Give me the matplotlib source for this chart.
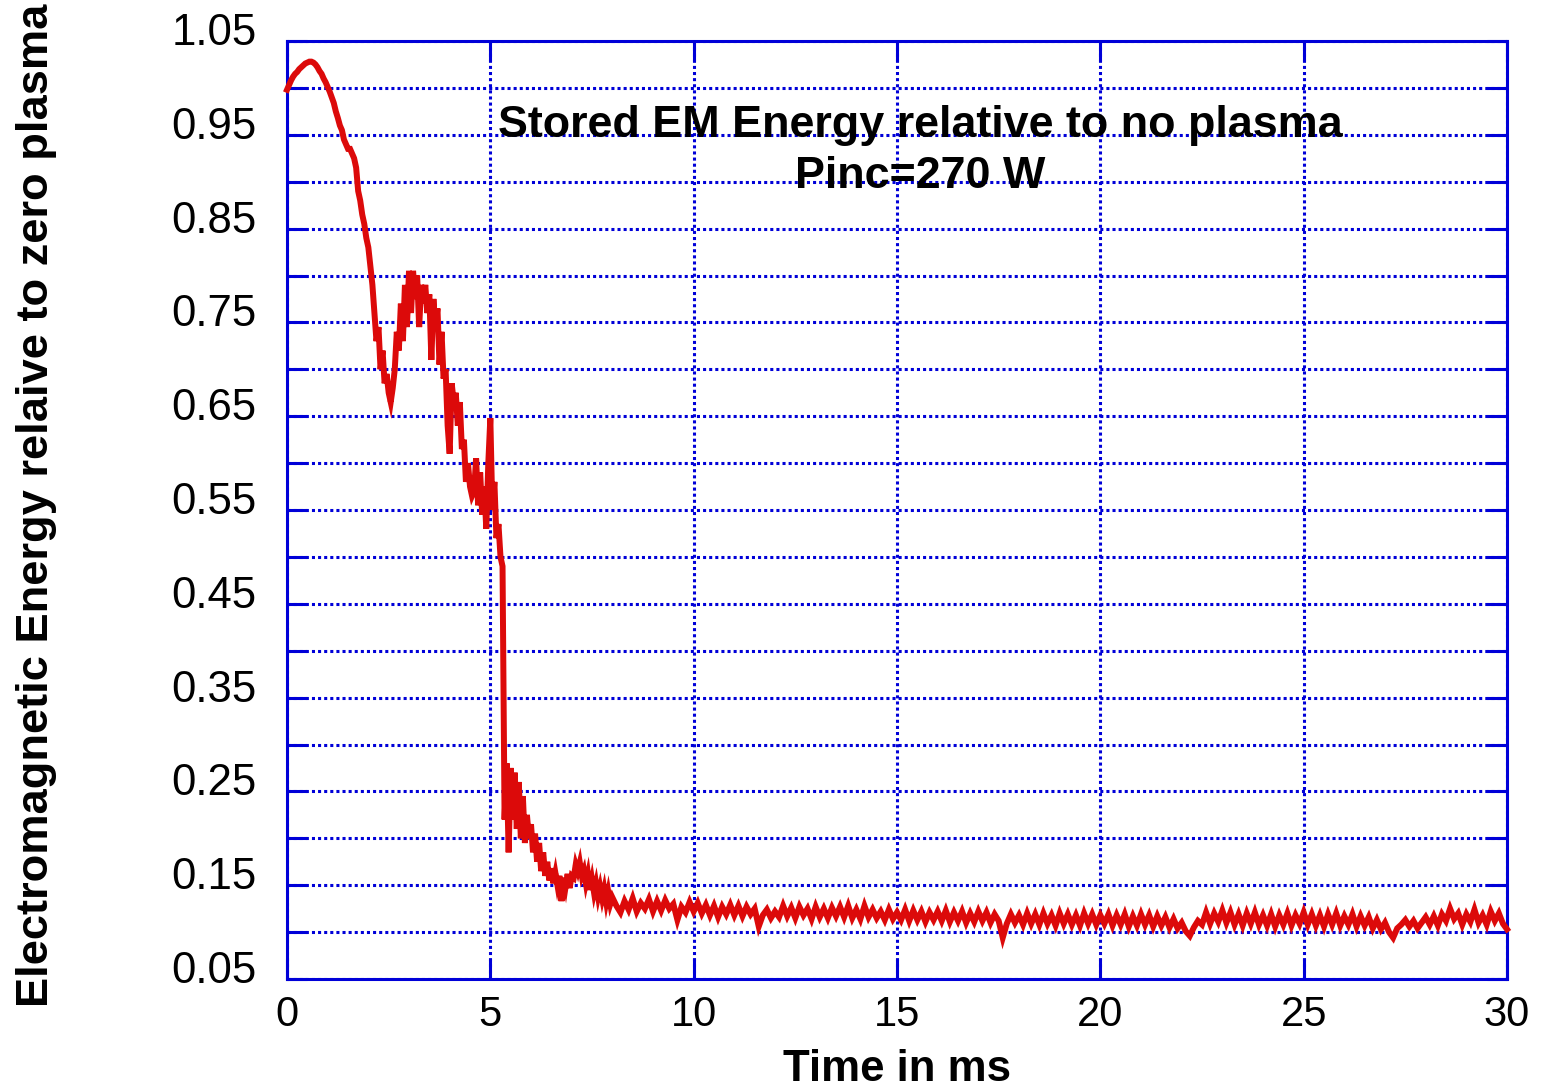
import numpy as np
import matplotlib
matplotlib.use('Agg')
import matplotlib.pyplot as plt
from matplotlib.ticker import FixedLocator, FormatStrFormatter
from matplotlib.transforms import ScaledTranslation

plt.rcParams['font.family'] = ['Liberation Sans', 'DejaVu Sans']

# ---------------- data ----------------
# early part: 0 .. 8 ms, sampled every 0.05 ms
early_start, early_stop = 0.0, 8.0
energy_early = [
    0.998, 1.003, 1.008, 1.012, 1.015, 1.017, 1.020, 1.022, 1.024, 1.026,
    1.027, 1.028, 1.028, 1.027, 1.025, 1.022, 1.018, 1.015, 1.010, 1.006,
    1.001, 0.996, 0.990, 0.984, 0.975, 0.968, 0.960, 0.955, 0.945, 0.940,
    0.935, 0.935, 0.930, 0.925, 0.915, 0.890, 0.880, 0.865, 0.855, 0.840,
    0.830, 0.810, 0.790, 0.760, 0.730, 0.745, 0.700, 0.720, 0.685, 0.695,
    0.675, 0.665, 0.680, 0.700, 0.740, 0.720, 0.770, 0.730, 0.790, 0.745,
    0.805, 0.760, 0.805, 0.775, 0.800, 0.745, 0.790, 0.770, 0.790, 0.760,
    0.780, 0.710, 0.775, 0.745, 0.765, 0.705, 0.740, 0.690, 0.700, 0.640,
    0.610, 0.685, 0.665, 0.675, 0.640, 0.665, 0.615, 0.625, 0.580, 0.600,
    0.575, 0.565, 0.570, 0.605, 0.555, 0.590, 0.545, 0.575, 0.530, 0.600,
    0.648, 0.550, 0.580, 0.520, 0.535, 0.500, 0.490, 0.220, 0.280, 0.185,
    0.275, 0.220, 0.270, 0.210, 0.260, 0.200, 0.245, 0.195, 0.225, 0.200,
    0.215, 0.185, 0.205, 0.175, 0.195, 0.165, 0.185, 0.160, 0.175, 0.155,
    0.168, 0.152, 0.163, 0.150, 0.160, 0.133, 0.158, 0.148, 0.162, 0.147,
    0.160, 0.158, 0.172, 0.165, 0.174, 0.160, 0.166, 0.152, 0.162, 0.145,
    0.156, 0.142, 0.152, 0.138, 0.148, 0.136, 0.146, 0.132, 0.143, 0.130,
    0.137,
]
# late part: 8.1 .. 30 ms, sampled every 0.1 ms
late_start, late_stop = 8.1, 30.0
energy_late = [
    0.128, 0.121, 0.133, 0.124, 0.136, 0.122, 0.131, 0.125, 0.135, 0.122,
    0.133, 0.123, 0.134, 0.125, 0.130, 0.113, 0.127, 0.121, 0.132, 0.122,
    0.131, 0.120, 0.129, 0.118, 0.128, 0.116, 0.127, 0.119, 0.129, 0.118,
    0.128, 0.117, 0.127, 0.119, 0.125, 0.106, 0.118, 0.124, 0.115, 0.122,
    0.116, 0.128, 0.117, 0.126, 0.115, 0.127, 0.118, 0.125, 0.114, 0.127,
    0.116, 0.125, 0.115, 0.126, 0.117, 0.127, 0.116, 0.128, 0.115, 0.124,
    0.114, 0.128, 0.116, 0.124, 0.115, 0.122, 0.113, 0.124, 0.114, 0.121,
    0.113, 0.124, 0.112, 0.123, 0.113, 0.122, 0.111, 0.121, 0.113, 0.122,
    0.112, 0.123, 0.111, 0.121, 0.112, 0.122, 0.110, 0.120, 0.111, 0.122,
    0.112, 0.121, 0.110, 0.119, 0.112, 0.094, 0.109, 0.119, 0.110, 0.118,
    0.108, 0.120, 0.109, 0.119, 0.108, 0.120, 0.109, 0.118, 0.107, 0.120,
    0.109, 0.119, 0.108, 0.118, 0.107, 0.120, 0.109, 0.119, 0.108, 0.118,
    0.109, 0.119, 0.107, 0.118, 0.108, 0.119, 0.106, 0.117, 0.107, 0.119,
    0.108, 0.118, 0.106, 0.117, 0.107, 0.116, 0.105, 0.114, 0.104, 0.110,
    0.101, 0.096, 0.105, 0.112, 0.108, 0.121, 0.109, 0.120, 0.111, 0.123,
    0.110, 0.121, 0.108, 0.119, 0.107, 0.120, 0.109, 0.121, 0.108, 0.118,
    0.107, 0.119, 0.106, 0.118, 0.108, 0.120, 0.107, 0.118, 0.109, 0.121,
    0.108, 0.119, 0.107, 0.118, 0.106, 0.119, 0.108, 0.120, 0.107, 0.117,
    0.108, 0.119, 0.106, 0.117, 0.107, 0.116, 0.104, 0.113, 0.103, 0.110,
    0.100, 0.094, 0.104, 0.108, 0.113, 0.106, 0.112, 0.104, 0.110, 0.116,
    0.108, 0.117, 0.107, 0.119, 0.112, 0.125, 0.114, 0.120, 0.108, 0.119,
    0.111, 0.124, 0.110, 0.118, 0.108, 0.122, 0.112, 0.120, 0.109, 0.103,
]

x_ticks = [0, 5, 10, 15, 20, 25, 30]
y_ticks_labeled = [0.05, 0.15, 0.25, 0.35, 0.45, 0.55, 0.65, 0.75, 0.85, 0.95, 1.05]
y_ticks_minor = [0.10, 0.20, 0.30, 0.40, 0.50, 0.60, 0.70, 0.80, 0.90, 1.00]

title_line1 = 'Stored EM Energy relative to no plasma'
title_line2 = 'Pinc=270 W'
x_label = 'Time in ms'
y_label = 'Electromagnetic Energy relaive to zero plasma'

# ---------------- build series ----------------
t_early = np.linspace(early_start, early_stop, len(energy_early))
t_late = np.linspace(late_start, late_stop, len(energy_late))
t = np.concatenate([t_early, t_late])
energy = np.concatenate([energy_early, energy_late])

# ---------------- figure ----------------
W, H = 1541, 1090
fig = plt.figure(figsize=(W / 100, H / 100), dpi=100)
ax = fig.add_axes([287 / W, 111 / H, 1220 / W, 938 / H])

blue = '#0000d8'
red = '#dc0a0a'

ax.plot(t, energy, color=red, lw=4.3, solid_joinstyle='miter', zorder=3, clip_on=False)

ax.set_xlim(0, 30)
ax.set_ylim(0.05, 1.05)
ax.xaxis.set_major_locator(FixedLocator(x_ticks))
ax.yaxis.set_major_locator(FixedLocator(y_ticks_labeled))
ax.yaxis.set_minor_locator(FixedLocator(y_ticks_minor))
ax.yaxis.set_major_formatter(FormatStrFormatter('%.2f'))

ax.tick_params(which='both', direction='in', length=14.4, width=2.2, color=blue,
               top=True, right=True)
ax.tick_params(axis='y', which='major', labelsize=31.5, pad=22, labelcolor='black')
ax.tick_params(axis='x', which='major', labelsize=30, pad=11.5, labelcolor='black')
ax.grid(which='both', color=blue, linestyle=(0, (1, 1)), linewidth=2.2)
for s in ax.spines.values():
    s.set_color(blue)
    s.set_linewidth(2.2)

ax.text(15.57, 0.9477, title_line1, ha='center', va='baseline', fontsize=32.3,
        fontweight='bold', color='black', zorder=4)
ax.text(15.57, 0.8933, title_line2, ha='center', va='baseline', fontsize=32.3,
        fontweight='bold', color='black', zorder=4)

ax.set_xlabel(x_label, fontsize=31.5, fontweight='bold')
ax.xaxis.set_label_coords(0.5, (979 - 1049) / 938)
ax.set_ylabel(y_label, fontsize=32.6, fontweight='bold')
ax.yaxis.set_label_coords(-0.1885, 0.5053)

# y tick labels sit slightly above their ticks in the original
shift = ScaledTranslation(0, 12 / 100, fig.dpi_scale_trans)
for tick in ax.yaxis.get_major_ticks():
    tick.label1.set_transform(tick.label1.get_transform() + shift)

fig.savefig('out.png', dpi=100)
